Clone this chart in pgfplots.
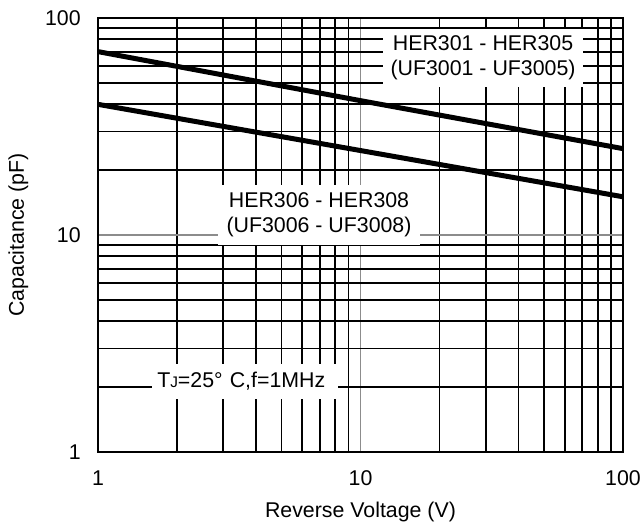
\documentclass[border=0pt]{standalone}
\usepackage{fontspec}
\setmainfont{Liberation Sans}
\usepackage{pgfplots}
\pgfplotsset{compat=1.18}
\begin{document}
\begin{tikzpicture}
\begin{loglogaxis}[
  scale only axis,
  width=393.75pt, height=325.5pt,
  at={(0,0)}, anchor=south west,
  xmin=1, xmax=100, ymin=1, ymax=100,
  xtick={1,10,100}, xticklabels={1,10,100},
  ytick={1,10,100}, yticklabels={1,10,100},
  /pgf/number format/assume math mode=true,
  tick label style={font=\fontsize{16}{18}\selectfont},
  xticklabel style={yshift=-10.5pt},
  yticklabel style={xshift=-9.5pt},
  major tick length=0pt, minor tick length=0pt,
  grid=both,
  major grid style={draw=gray!90, line width=1.1pt},
  minor grid style={draw=black, line width=1.4pt},
  axis line style={line width=1.6pt},
  xlabel={Reverse Voltage (V)},
  ylabel={Capacitance (pF)},
  label style={font=\fontsize{16}{18}\selectfont},
  xlabel style={yshift=-5pt},
  ylabel style={yshift=5.75pt},
]
\addplot[black, line width=3.75pt] coordinates {(1,70) (10,41.6) (100,25)};
\addplot[black, line width=3.75pt] coordinates {(1,40) (10,24.5) (100,15)};
\node[fill=white, inner sep=0pt, minimum width=150pt, minimum height=43pt, align=center, font=\fontsize{16}{18.75}\selectfont] at (axis cs:29.3,65.5) {HER301 - HER305\\(UF3001 - UF3005)};
\node[fill=white, inner sep=0pt, minimum width=151.5pt, minimum height=45pt, align=center, font=\fontsize{16}{18.75}\selectfont] at (axis cs:6.95,12.4) {HER306 - HER308\\(UF3006 - UF3008)};
\node[fill=white, anchor=west, inner xsep=3.75pt, inner ysep=0pt, minimum height=26pt, text width=132pt, align=left, font=\fontsize{16}{18}\selectfont] at (axis cs:1.606,2.12) {T{\fontsize{11.5}{12}\selectfont J}=25° C,f=1MHz};
\end{loglogaxis}
\pgfresetboundingbox
\path[use as bounding box] (-73.5pt,-54pt) rectangle (408pt,339pt);
\end{tikzpicture}
\end{document}
